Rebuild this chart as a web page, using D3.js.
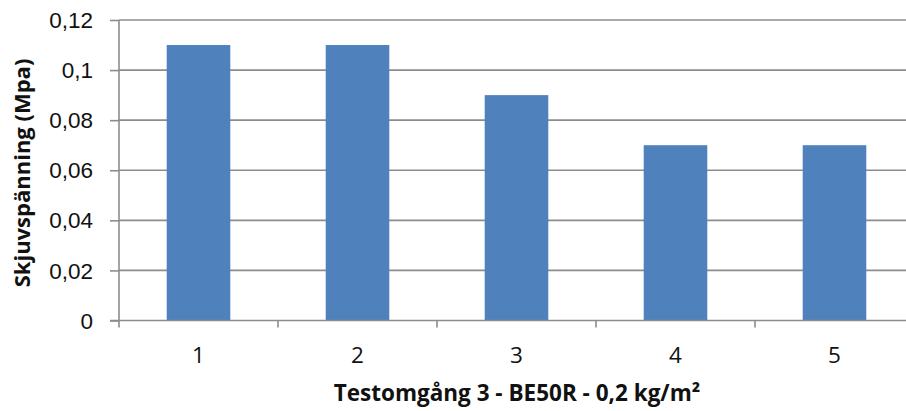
<!DOCTYPE html>
<html>
<head>
<meta charset="utf-8">
<script src="https://cdn.jsdelivr.net/npm/d3@7"></script>
<style>
  html, body { margin: 0; padding: 0; background: #fff; }
  svg { display: block; font-family: "Open Sans", "Liberation Sans", sans-serif; }
</style>
</head>
<body>
<svg id="chart" width="906" height="411"></svg>
<script>
// Shear stress per test run
const categories = ["1", "2", "3", "4", "5"];
const values = [0.11, 0.11, 0.09, 0.07, 0.07];
const yTicks = [0, 0.02, 0.04, 0.06, 0.08, 0.1, 0.12];
const yTitle = "Skjuvspänning (Mpa)";
const xTitle = "Testomgång 3 - BE50R - 0,2 kg/m²";

(function draw() {
  const svg = d3.select("#chart");
  const plotLeft = 119, plotRight = 914, plotTop = 20, plotBottom = 320.5;

  const x = d3.scaleBand().domain(categories).range([plotLeft, plotRight])
    .paddingInner(0.6).paddingOuter(0.3);
  const y = d3.scaleLinear().domain([0, 0.12]).range([plotBottom, plotTop]);
  const fmt = d => d3.format("~g")(d).replace(".", ",");

  // horizontal gridlines
  svg.append("g").selectAll("line").data(yTicks.filter(d => d > 0)).join("line")
    .attr("x1", plotLeft).attr("x2", plotRight)
    .attr("y1", d => y(d)).attr("y2", d => y(d))
    .attr("stroke", "#8c8c8c").attr("stroke-width", 1.6);

  // bars
  svg.append("g").selectAll("rect").data(values).join("rect")
    .attr("x", (d, i) => x(categories[i]))
    .attr("width", x.bandwidth())
    .attr("y", d => y(d))
    .attr("height", d => y(0) - y(d))
    .attr("fill", "#4f81bd");

  // y axis
  const yAxis = svg.append("g").attr("transform", `translate(${plotLeft},0)`)
    .call(d3.axisLeft(y).tickValues(yTicks).tickFormat(fmt).tickSize(9).tickPadding(17));
  yAxis.select(".domain").attr("stroke", "#8c8c8c").attr("stroke-width", 1.6)
    .attr("d", `M0,${plotTop}V${plotBottom}`);
  yAxis.selectAll(".tick line").attr("stroke", "#8c8c8c").attr("stroke-width", 1.6);
  yAxis.selectAll(".tick text").attr("font-size", 22.5).attr("fill", "#111")
    .attr("dy", "0.34em");

  // x axis with boundary ticks between categories
  const xAxis = svg.append("g").attr("transform", `translate(0,${plotBottom})`);
  xAxis.append("line").attr("x1", plotLeft - 9).attr("x2", plotRight)
    .attr("stroke", "#8c8c8c").attr("stroke-width", 1.6);
  const bounds = d3.range(categories.length + 1).map(i => plotLeft + i * x.step());
  xAxis.selectAll(".bt").data(bounds).join("line").attr("class", "bt")
    .attr("x1", d => d).attr("x2", d => d).attr("y1", 0).attr("y2", 7)
    .attr("stroke", "#8c8c8c").attr("stroke-width", 1.6);
  xAxis.selectAll(".lbl").data(categories).join("text").attr("class", "lbl")
    .attr("x", d => x(d) + x.bandwidth() / 2).attr("y", 42.5)
    .attr("text-anchor", "middle").attr("font-size", 22.5).attr("fill", "#111")
    .text(d => d);

  // axis titles
  svg.append("text").attr("x", 517).attr("y", 401)
    .attr("text-anchor", "middle").attr("font-size", 22.5).attr("font-weight", "bold")
    .attr("fill", "#111").text(xTitle);
  svg.append("text").attr("transform", "translate(30,173) rotate(-90)")
    .attr("text-anchor", "middle").attr("font-size", 22).attr("font-weight", "bold")
    .attr("fill", "#111").text(yTitle);
})();
</script>
</body>
</html>
